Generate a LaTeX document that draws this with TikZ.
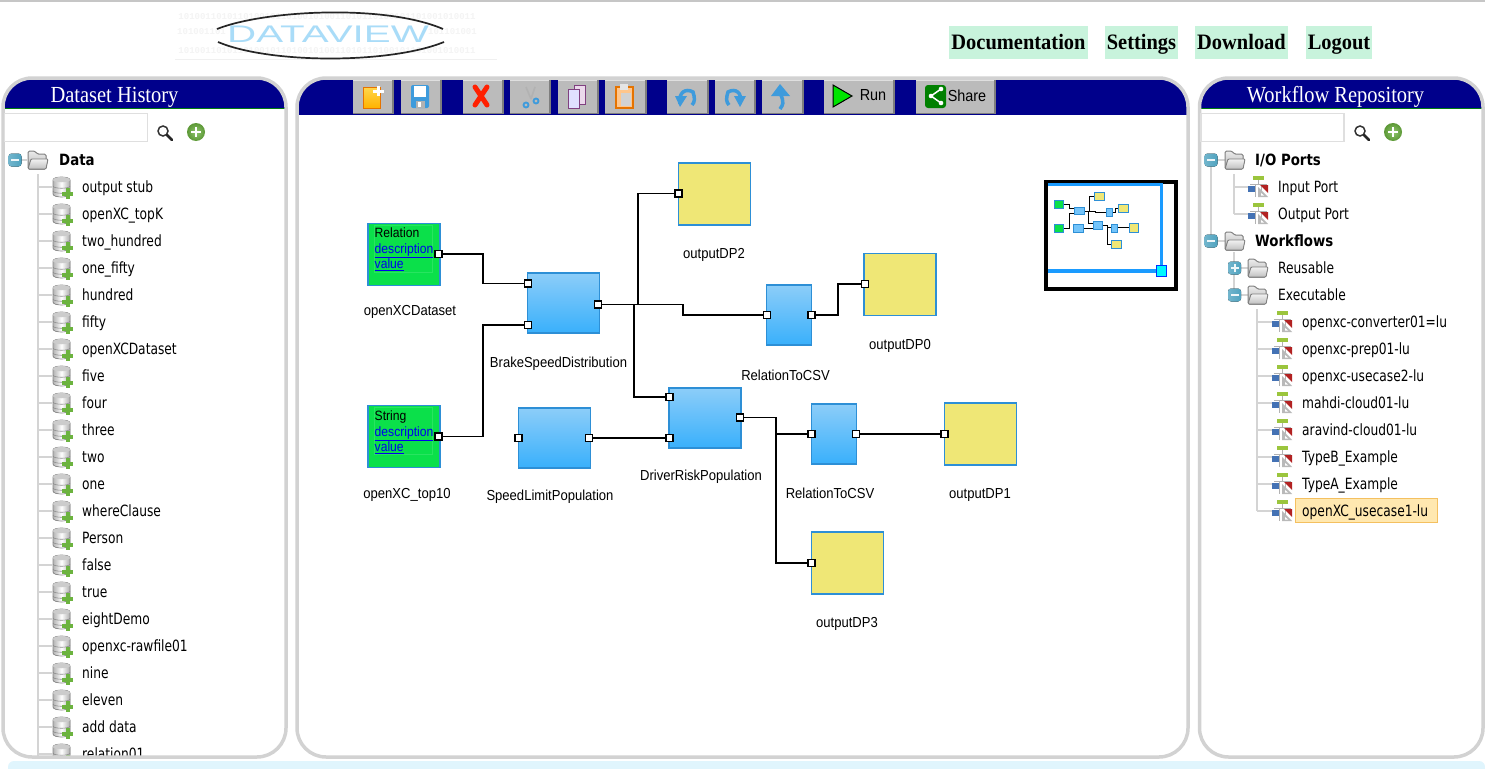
\documentclass[tikz,border=0pt]{standalone}
\usepackage{fontspec}
\usepackage{graphicx}
\usetikzlibrary{calc,shapes.geometric}
\setmainfont[FakeStretch=0.89]{Liberation Serif}
\newfontfamily\navfont[FakeStretch=0.93]{Liberation Serif}
\newfontfamily\treefont[FakeStretch=0.79]{DejaVu Sans}
\newfontfamily\treeboldfont[FakeStretch=0.86]{DejaVu Sans Bold}
\newfontfamily\labfont[FakeStretch=0.90]{Liberation Sans}
\newfontfamily\monofam{Liberation Mono}
\newfontfamily\logofont{Liberation Sans}
\definecolor{navy}{HTML}{00008B}
\definecolor{frame}{HTML}{D2D2D2}
\definecolor{headgreen}{HTML}{007A10}
\definecolor{blueedge}{HTML}{2D8FD6}
\definecolor{bluetop}{HTML}{8CCDF9}
\definecolor{bluebot}{HTML}{39B0FB}
\definecolor{dsgreen}{HTML}{0BE04A}
\definecolor{dpyellow}{HTML}{EFE776}
\definecolor{navgreen}{HTML}{C8F3DC}
\definecolor{treeline}{HTML}{D4D4D4}
\definecolor{btn}{HTML}{BBBBBB}
\definecolor{btndark}{HTML}{7E7E7E}
\definecolor{linkblue}{HTML}{0000EE}
\definecolor{toggleblue}{HTML}{4FA3C0}
\definecolor{logoblue}{HTML}{A9DCF8}
\definecolor{ovblue}{HTML}{1A9BFF}
\definecolor{ovcyan}{HTML}{00F8FF}
\definecolor{addgreen}{HTML}{6CB33F}
\definecolor{wfgreen}{HTML}{9BC53D}
\definecolor{wfblue}{HTML}{4472B4}
\definecolor{wfred}{HTML}{B22222}
\definecolor{selfill}{HTML}{FFE8B0}
\definecolor{seledge}{HTML}{F4C060}
\definecolor{arrowblue}{HTML}{3E9BDC}
\tikzset{
  panelframe/.style={draw=frame,line width=3.5pt,rounded corners=29pt},
  navbtn/.style={fill=navgreen,font=\navfont\fontsize{22}{24}\selectfont\bfseries,inner sep=0pt,text height=17pt,text depth=2pt,anchor=center},
  titletext/.style={text=white,font=\fontsize{23}{25}\selectfont,inner sep=0pt,yshift=-2pt},
  treetext/.style={anchor=west,inner sep=0pt,font=\treefont\fontsize{15.5}{17}\selectfont,text height=12pt,text depth=2pt},
  treebold/.style={treetext,font=\treeboldfont\fontsize{15.5}{17}\selectfont},
  treeedge/.style={draw=treeline,line width=1.2pt},
  dsbox/.style={draw=blueedge,line width=1.2pt,fill=dsgreen,minimum width=72pt,minimum height=62pt,inner sep=0pt},
  dpbox/.style={draw=blueedge,line width=1.2pt,fill=dpyellow,minimum width=72pt,minimum height=62pt,inner sep=0pt},
  opbox/.style={draw=blueedge,line width=1.2pt,top color=bluetop,bottom color=bluebot,minimum width=72pt,minimum height=60pt,inner sep=0pt},
  csvbox/.style={opbox,minimum width=45pt},
  portbox/.style={draw=black,line width=1.5pt,fill=white,minimum size=7pt,inner sep=0pt},
  lab/.style={inner sep=0pt,font=\labfont\fontsize{14.5}{16}\selectfont,yshift=-1pt},
  dstext/.style={anchor=west,inner sep=0pt,font=\labfont\fontsize{13.5}{16}\selectfont,text height=10pt,text depth=2pt},
  wire/.style={draw=black,line width=1.5pt,line join=miter},
  searchbox/.style={draw=frame!70,line width=1.5pt,fill=white,minimum width=143pt,minimum height=28pt,inner sep=0pt},
  toolbtn/.style={fill=btn}
}
\newcommand\toggleicon[2]{%
  \begin{scope}[shift={(#1,#2)}]
    \fill[left color=toggleblue!80,right color=toggleblue,rounded corners=3pt] (-6.5,-6.5) rectangle (6.5,6.5);
    \fill[white!90!toggleblue] (-4,-1) rectangle (4,1);
  \end{scope}}
\newcommand\toggleplus[2]{%
  \begin{scope}[shift={(#1,#2)}]
    \fill[left color=toggleblue!80,right color=toggleblue,rounded corners=3pt] (-6.5,-6.5) rectangle (6.5,6.5);
    \fill[white!90!toggleblue] (-4,-1) rectangle (4,1);
    \fill[white!90!toggleblue] (-1,-4) rectangle (1,4);
  \end{scope}}
\newcommand\foldericon[2]{%
  \begin{scope}[shift={(#1,#2)}]
    \filldraw[draw=gray,line width=1pt,top color=gray!15,bottom color=gray!60,rounded corners=1.5pt]
      (-10,9)--(-10,-9)--(-3,-9)--(-1,-6)--(8,-6)--(8,9)--cycle;
    \filldraw[draw=gray,line width=.9pt,top color=gray!10,bottom color=gray!50,rounded corners=1pt]
      (-10,9)--(-7,-1)--(10,-1)--(8,9)--cycle;
  \end{scope}}
\newcommand\dbicon[2]{%
  \begin{scope}[shift={(#1,#2)}]
    \filldraw[draw=gray!90,line width=.7pt,left color=gray!60,right color=gray!65,middle color=white]
      (-9,-7) .. controls (-9,-11) and (8,-11) .. (8,-7) -- (8,7) .. controls (8,11) and (-9,11) .. (-9,7) -- cycle;
    \fill[gray!40] (-9,-7) .. controls (-9,-11) and (8,-11) .. (8,-7) .. controls (8,-4) and (-9,-4) .. (-9,-7) -- cycle;
    \draw[gray!90,line width=.6pt] (-9,-1) .. controls (-9,2) and (8,2) .. (8,-1);
    \draw[gray!90,line width=.6pt] (-9,4) .. controls (-9,7) and (8,7) .. (8,4);
    \fill[addgreen] (3.5,1) rectangle (7.5,12);
    \fill[addgreen] (0,4.5) rectangle (11,8.5);
  \end{scope}}
\newcommand\flowicon[2]{%
  \begin{scope}[shift={(#1,#2)}]
    \fill[wfgreen] (-5,-11) rectangle (6,-7);
    \draw[gray!60,line width=.9pt] (0,-7) -- (0,-3) (-8,-3) -- (9,-3) (-3,-3) -- (-3,10) (3,-3) -- (3,10);
    \fill[wfblue] (-10,-1) rectangle (-3,5);
    \fill[wfred] (2,-2) -- (10,-2) -- (10,6) -- cycle;
    \fill[gray!55] (0,0) -- (0,10) -- (10,10) -- cycle;
    \fill[white] (3,6) -- (3,8.5) -- (6,8.5) -- cycle;
  \end{scope}}
\newcommand\magicon[2]{%
  \begin{scope}[shift={(#1,#2)}]
    \draw[black!80,line width=1.5pt,fill=white] (-2,-2) circle (5pt);
    \draw[black!85,line width=2.6pt,line cap=round] (2,2) -- (7,7);
  \end{scope}}
\newcommand\plusicon[2]{%
  \begin{scope}[shift={(#1,#2)}]
    \shade[inner color=addgreen!75!white,outer color=addgreen!85!black] (0,0) circle (9pt);
    \fill[white] (-5,-1.4) rectangle (5,1.4);
    \fill[white] (-1.4,-5) rectangle (1.4,5);
  \end{scope}}
\newcommand\toolbutton[2]{%
  \fill[btn] (#1,80) rectangle (#2,114);
  \fill[btndark] (#2-2,80) rectangle (#2,114);
  \fill[btndark] (#1,112.6) rectangle (#2,114);
  \fill[gray!25] (#1,80) rectangle (#2-2,81);}
\newcommand\mpt[1]{($(hc)!\mk!(#1)$)}
\newcommand\allwires{%
  \draw[wire] \mpt{pRel.east} -| \mpt{wAa} |- \mpt{pBrakeA.west};
  \draw[wire] \mpt{pStr.east} -| \mpt{wAb} |- \mpt{pBrakeB.west};
  \draw[wire] \mpt{pBrakeO.east} -| \mpt{wB} |- \mpt{pCsvAi.west};
  \draw[wire] \mpt{tA} |- \mpt{pDPtwo.west};
  \draw[wire] \mpt{tB} |- \mpt{pDriveA.west};
  \draw[wire] \mpt{pSpeedO.east} -- \mpt{pDriveB.west};
  \draw[wire] \mpt{pDriveO.east} -| \mpt{wC} |- \mpt{pDPthree.west};
  \draw[wire] \mpt{tC} |- \mpt{pCsvBi.west};
  \draw[wire] \mpt{pCsvBo.east} -- \mpt{pDPone.west};
  \draw[wire] \mpt{pCsvAo.east} -| \mpt{wD} |- \mpt{pDPzero.west};
}
\begin{document}
\begin{tikzpicture}[x=1pt,y=-1pt]
\useasboundingbox (0,0) rectangle (1485,768);
\fill[white] (0,0) rectangle (1485,768);
\fill[gray!45] (0,0) rectangle (1485,2);
% logo
\tikzset{bits/.style={inner sep=0pt,text=gray!9,font=\monofam\bfseries\fontsize{9}{9}\selectfont}}
\node[bits] (logobitsa) at (327,17) {1010011010110100101101001010011010110100101101001010011};
\node[bits,anchor=west] (logobitsb) at (177,32) {101001101};
\node[bits,anchor=east] (logobitsd) at (477,32) {101101001};
\node[bits] (logobitsc) at (327,51) {1010011010110100101101001010011010110100101101001010011};
\draw[gray!12,line width=.8pt] (175,59) -- (497,59);
\node[inner sep=0pt,text=logoblue,font=\logofont\fontsize{24}{25}\selectfont] (logotext) at (328,34.5) {\scalebox{1.68}[1]{DATAVIEW}};
\draw[black!85,line width=1.7pt] (217,29) .. controls (265,10) and (385,4) .. (443,29);
\draw[black!85,line width=1.7pt] (218,42) .. controls (270,64) and (390,64) .. (444,42);
% nav
\node[navbtn,minimum width=139pt,minimum height=33pt] (navdoc) at (1018.5,42.5) {Documentation};
\node[navbtn,minimum width=73pt,minimum height=33pt] (navset) at (1141.5,42.5) {Settings};
\node[navbtn,minimum width=93pt,minimum height=33pt] (navdl) at (1241.5,42.5) {Download};
\node[navbtn,minimum width=66pt,minimum height=33pt] (navout) at (1339,42.5) {Logout};
% bottom strip
\fill[cyan!12,rounded corners=6pt] (8,761) rectangle (1485,780);
% left panel
\begin{scope}
  \clip[rounded corners=29pt] (3,78) rectangle (286,757);
  \fill[navy] (3,78) rectangle (286,108);
  \fill[headgreen] (3,79) rectangle (286,80);
  \fill[headgreen] (3,107.5) rectangle (286,108.6);
  \draw[treeedge] (38,174) -- (38,760);
  \foreach \t [count=\i from 0] in {output stub,openXC\_topK,two\_hundred,one\_fifty,hundred,fifty,openXCDataset,five,four,three,two,one,whereClause,Person,false,true,eightDemo,openxc-rawfile01,nine,eleven,add data,relation01}{
    \pgfmathsetmacro\ry{187+27*\i}
    \draw[treeedge] (38,\ry) -- (52,\ry);
    \dbicon{62}{\ry}
    \node[treetext] (ds\i) at (82,\ry) {\t};
  }
\end{scope}
\draw[panelframe] (3,78) rectangle (286,757);
\node[titletext] (titleleft) at (114.5,95) {Dataset History};
\node[searchbox] (searchleft) at (76,127.5) {};
\magicon{165}{133}
\plusicon{196}{132}
\draw[treeedge] (21,160) -- (27,160);
\toggleicon{15}{160}
\foldericon{38}{160}
\node[treebold] (rootdata) at (59,160) {Data};
% centre panel
\begin{scope}
  \clip[rounded corners=29pt] (297,78) rectangle (1188,757);
  \fill[navy] (297,78) rectangle (1188,114.5);
\end{scope}
\draw[panelframe] (297,78) rectangle (1188,757);
\toolbutton{353}{394}
\toolbutton{401}{442}
\toolbutton{463}{504}
\toolbutton{510}{551}
\toolbutton{558}{599}
\toolbutton{605}{647}
\toolbutton{667}{709}
\toolbutton{715}{756}
\toolbutton{762}{804}
\toolbutton{824}{895}
\toolbutton{916}{996}
% new
\filldraw[draw=orange!90!black,line width=.8pt,top color=yellow!55!orange!70!white,bottom color=orange!60!yellow] (363,87) rectangle (380,108);
\fill[white] (377,86) rectangle (380,96);\fill[white] (373,89.5) rectangle (384,92.5);
% save
\fill[arrowblue,rounded corners=2pt] (411,85) rectangle (429,108);
\fill[white] (414,86) rectangle (426,97);\fill[gray!60] (416,101) rectangle (425,108);\fill[white] (418,102) rectangle (421,107);
% delete
\draw[red!75!orange,line width=5pt,line cap=round] (475,87) -- (487,105) (487,87) -- (475,105);
% cut
\draw[gray!60,line width=1.6pt] (526,87) -- (531,99);
\draw[gray!60,line width=1.6pt] (535,87) -- (531,99);
\draw[arrowblue,line width=1.8pt] (526,105) circle (2.5pt) (536,101) circle (2.5pt);
% copy
\filldraw[draw=violet!50!gray,line width=1pt,fill=violet!15] (574,85) rectangle (585,104);
\filldraw[draw=violet!50!gray,line width=1pt,fill=blue!12] (568,89) rectangle (579,108);
% paste
\filldraw[draw=orange!90!black,line width=1.5pt,fill=orange!45] (616,87) rectangle (633,108);
\fill[gray!35] (621,93) rectangle (631,106);
\fill[gray!20] (620,84) rectangle (628,90);
% undo redo up
\draw[arrowblue,line width=3.5pt] (680,104) .. controls (678,92) and (686,88) .. (693,92) .. controls (695,98) and (695,102) .. (692,105);
\fill[arrowblue] (675,96) -- (687,96) -- (680,107) -- cycle;
\draw[arrowblue,line width=3.5pt] (740,104) .. controls (743,92) and (735,88) .. (728,92) .. controls (726,98) and (726,102) .. (729,105);
\fill[arrowblue] (734,96) -- (746,96) -- (740,107) -- cycle;
\draw[arrowblue,line width=3.5pt] (781,91) .. controls (779,97) and (787,100) .. (780,109);
\fill[arrowblue] (771,96) -- (780,84) -- (790,96) -- cycle;
% run / share
\filldraw[draw=black,line width=1pt,fill=green!90!black] (833,85) -- (852,96) -- (833,107) -- cycle;
\node[inner sep=0pt,font=\labfont\fontsize{16}{18}\selectfont] (runtext) at (873,95.5) {Run};
\fill[green!50!black,rounded corners=3pt] (925,85) rectangle (946,108);
\draw[white,line width=1.5pt] (941,89) -- (931,96) -- (941,103);
\fill[white] (941,89) circle (2.3pt) (931,96) circle (2.3pt) (941,103) circle (2.3pt);
\node[inner sep=0pt,font=\labfont\fontsize{16}{18}\selectfont] (sharetext) at (967,95.5) {Share};
% diagram nodes
\node[dsbox] (dsRel) at (404,254.5) {};
\node[dsbox] (dsStr) at (404,436.5) {};
\draw[dsgreen!88!white,line width=.6pt] (374,225) rectangle (432,272);
\draw[dsgreen!88!white,line width=.6pt] (374,407) rectangle (432,454);
\node[opbox] (opBrake) at (563.5,303) {};
\node[opbox] (opSpeed) at (554.5,438) {};
\node[opbox] (opDrive) at (705,418) {};
\node[csvbox] (csvA) at (789,315) {};
\node[csvbox] (csvB) at (834,434) {};
\node[dpbox] (dpTwo) at (714.5,194) {};
\node[dpbox] (dpZero) at (900,284.5) {};
\node[dpbox] (dpOne) at (980.5,434) {};
\node[dpbox] (dpThree) at (847.5,563) {};
% dataset text
\node[dstext] (relType) at (374.5,233) {Relation};
\node[dstext,text=linkblue] (relDesc) at (374.5,249) {\underline{description}};
\node[dstext,text=linkblue] (relVal) at (374.5,264.5) {\underline{value}};
\node[dstext] (strType) at (374.5,416) {String};
\node[dstext,text=linkblue] (strDesc) at (374.5,432) {\underline{description}};
\node[dstext,text=linkblue] (strVal) at (374.5,447.5) {\underline{value}};
% labels
\node[lab] (lbRel) at (410,311) {openXCDataset};
\node[lab] (lbStr) at (407,494) {openXC\_top10};
\node[lab] (lbBrake) at (558.5,362.5) {BrakeSpeedDistribution};
\node[lab] (lbSpeed) at (550,496) {SpeedLimitPopulation};
\node[lab] (lbDrive) at (701,476) {DriverRiskPopulation};
\node[lab] (lbCsvA) at (785.5,374) {RelationToCSV};
\node[lab] (lbCsvB) at (830,492) {RelationToCSV};
\node[lab] (lbZero) at (900,345) {outputDP0};
\node[lab] (lbOne) at (980,494) {outputDP1};
\node[lab] (lbTwo) at (714,254) {outputDP2};
\node[lab] (lbThree) at (847,623) {outputDP3};
% ports
\node[portbox] (pRel) at (438.5,254) {};
\node[portbox] (pStr) at (438.5,436.5) {};
\node[portbox] (pBrakeA) at (528,283.5) {};
\node[portbox] (pBrakeB) at (528,325) {};
\node[portbox] (pBrakeO) at (598,304.5) {};
\node[portbox] (pSpeedI) at (518.5,438) {};
\node[portbox] (pSpeedO) at (589,438) {};
\node[portbox] (pDriveA) at (669.5,397) {};
\node[portbox] (pDriveB) at (669.5,438) {};
\node[portbox] (pDriveO) at (740,417.5) {};
\node[portbox] (pCsvAi) at (767,315) {};
\node[portbox] (pCsvAo) at (811.5,315) {};
\node[portbox] (pCsvBi) at (811.5,434) {};
\node[portbox] (pCsvBo) at (856,434) {};
\node[portbox] (pDPtwo) at (678.5,193.5) {};
\node[portbox] (pDPzero) at (865,284) {};
\node[portbox] (pDPone) at (944.5,434) {};
\node[portbox] (pDPthree) at (811.5,563) {};
% wire bends
\coordinate (wAa) at (483,270);
\coordinate (wAb) at (483,380);
\coordinate (wB) at (683,310);
\coordinate (wC) at (776,480);
\coordinate (wD) at (838,300);
\coordinate (tA) at (638,304.5);
\coordinate (tB) at (634,304.5);
\coordinate (tC) at (776,417.5);
\coordinate (hc) at (1156.7,197.1);
\def\mk{1}
\allwires
% overview
\draw[black,line width=4pt] (1045.5,181.5) rectangle (1176,289);
\def\mk{0.13}
\tikzset{wire/.style={draw=black,line width=1pt}}
\allwires
\foreach \n in {dsRel,dsStr}
  \filldraw[draw=blueedge,line width=.7pt,fill=dsgreen] \mpt{\n.north west} rectangle \mpt{\n.south east};
\foreach \n in {opBrake,opSpeed,opDrive,csvA,csvB}
  \filldraw[draw=blueedge,line width=.7pt,fill=bluetop!70!bluebot] \mpt{\n.north west} rectangle \mpt{\n.south east};
\foreach \n in {dpTwo,dpZero,dpOne,dpThree}
  \filldraw[draw=blueedge,line width=.7pt,fill=dpyellow] \mpt{\n.north west} rectangle \mpt{\n.south east};
\fill[ovblue] (1047.5,183) rectangle (1163,185.5);
\fill[ovblue] (1159.5,183) rectangle (1163,271);
\fill[ovblue] (1047.5,269) rectangle (1163,272.5);
\node[draw=blue!80!cyan,line width=1pt,fill=ovcyan,minimum width=10pt,minimum height=11pt,inner sep=0pt] (ovhandle) at (1161,270.5) {};
% right panel
\begin{scope}
  \clip[rounded corners=29pt] (1199.5,78) rectangle (1483,757);
  \fill[navy] (1199.5,78) rectangle (1483,108);
  \fill[headgreen] (1199.5,79) rectangle (1483,80);
  \fill[headgreen] (1199.5,107.5) rectangle (1483,108.6);
\end{scope}
\draw[panelframe] (1199.5,78) rectangle (1483,757);
\node[titletext] (titleright) at (1335.5,95) {Workflow Repository};
\node[searchbox] (searchright) at (1272.5,127.5) {};
\magicon{1362}{133}
\plusicon{1393}{132}
\draw[treeedge] (1211,165) -- (1211,241);
\draw[treeedge] (1234,174) -- (1234,214);
\draw[treeedge] (1234,187) -- (1248,187) (1234,214) -- (1248,214);
\draw[treeedge] (1234,252) -- (1234,295);
\draw[treeedge] (1257,309) -- (1257,511);
\draw[treeedge] (1217,160) -- (1225,160) (1217,241) -- (1225,241) (1240,268) -- (1248,268) (1240,295) -- (1248,295);
\toggleicon{1211}{160}
\toggleicon{1211}{241}
\toggleplus{1234.5}{268}
\toggleicon{1234.5}{295}
\foldericon{1235}{160}
\foldericon{1235}{241}
\foldericon{1258}{268}
\foldericon{1258}{295}
\node[treebold] (rtIO) at (1255,160) {I/O Ports};
\node[treebold] (rtWF) at (1255,241) {Workflows};
\flowicon{1258}{187}
\flowicon{1258}{214}
\node[treetext] (rtIn) at (1278,187) {Input Port};
\node[treetext] (rtOut) at (1278,214) {Output Port};
\node[treetext] (rtRe) at (1278,268) {Reusable};
\node[treetext] (rtEx) at (1278,295) {Executable};
\fill[selfill] (1295,498.5) rectangle (1437,522);
\draw[seledge,line width=1pt] (1295,498.5) rectangle (1437,522);
\foreach \t [count=\i from 0] in {openxc-converter01=lu,openxc-prep01-lu,openxc-usecase2-lu,mahdi-cloud01-lu,aravind-cloud01-lu,TypeB\_Example,TypeA\_Example,openXC\_usecase1-lu}{
  \pgfmathsetmacro\ry{322+27*\i}
  \draw[treeedge] (1257,\ry) -- (1272,\ry);
  \flowicon{1282}{\ry}
  \node[treetext] (wf\i) at (1302,\ry) {\t};
}
\end{tikzpicture}
\end{document}
